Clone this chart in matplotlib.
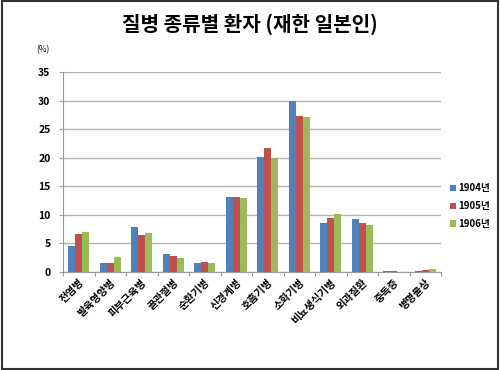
import numpy as np
import matplotlib.pyplot as plt
from matplotlib.patches import Rectangle

plt.rcParams['font.family'] = ['Noto Sans CJK KR', 'DejaVu Sans']

categories = ['전염병', '발육영양병', '피부근육병', '골관절병', '순환기병', '신경계병',
              '호흡기병', '소화기병', '비뇨생식기병', '외과질환', '중독증', '병명불상']
years = ['1904년', '1905년', '1906년']
v1904 = [4.6, 1.5, 7.8, 3.1, 1.5, 13.2, 20.2, 30.0, 8.5, 9.2, 0.1, 0.1]
v1905 = [6.6, 1.6, 6.5, 2.8, 1.7, 13.1, 21.7, 27.4, 9.4, 8.6, 0.1, 0.3]
v1906 = [7.0, 2.6, 6.8, 2.5, 1.6, 12.9, 20.0, 27.2, 10.1, 8.3, 0.05, 0.5]
colors = ['#4F81BD', '#C0504D', '#9BBB59']

fig = plt.figure(figsize=(5, 3.7), dpi=100)
ax = fig.add_axes([0.126, 0.265, 0.756, 0.54])

x = np.arange(len(categories))
w = 0.22
for i, (vals, lab) in enumerate(zip([v1904, v1905, v1906], years)):
    ax.bar(x + (i - 1) * w, vals, w, color=colors[i], label=lab, zorder=3)

ax.set_xlim(-0.5, len(categories) - 0.5)
ax.set_ylim(0, 35)
ax.set_yticks(range(0, 36, 5))
ax.yaxis.grid(True, color='#b3b3b3', linewidth=1, zorder=0)
for s in ['top', 'right']:
    ax.spines[s].set_visible(False)
ax.spines['left'].set_color('#999999')
ax.spines['bottom'].set_color('#999999')
ax.tick_params(axis='y', length=3, color='#999999', labelsize=7.5, pad=6)
ax.set_xticks(np.arange(len(categories) + 1) - 0.5, minor=False)
ax.set_xticklabels([])
ax.set_xticks(x, minor=True)
ax.set_xticklabels(categories, minor=True, rotation=45, ha='right', rotation_mode='anchor', fontsize=7.5)
ax.tick_params(axis='x', which='major', length=3, color='#999999')
ax.tick_params(axis='x', which='minor', length=0, pad=4)
for t in ax.get_yticklabels() + ax.get_xticklabels(minor=True):
    t.set_fontweight('bold')

fig.text(0.5, 0.935, '질병 종류별 환자 (재한 일본인)', ha='center', va='center', fontsize=14.5, fontweight='bold')
fig.text(0.086, 0.865, '(%)', ha='center', va='center', fontsize=6)

fig.legend(loc='center left', bbox_to_anchor=(0.9, 0.443), frameon=False,
           handlelength=0.6, handleheight=0.6, handletextpad=0.25, labelspacing=0.8,
           borderpad=0, borderaxespad=0, prop={'weight': 'bold', 'size': 7})

fig.patches.append(Rectangle((0.003, 0.004), 0.993, 0.992, transform=fig.transFigure,
                             fill=False, edgecolor='#333333', linewidth=1.5))

fig.savefig('out.png', dpi=100)
